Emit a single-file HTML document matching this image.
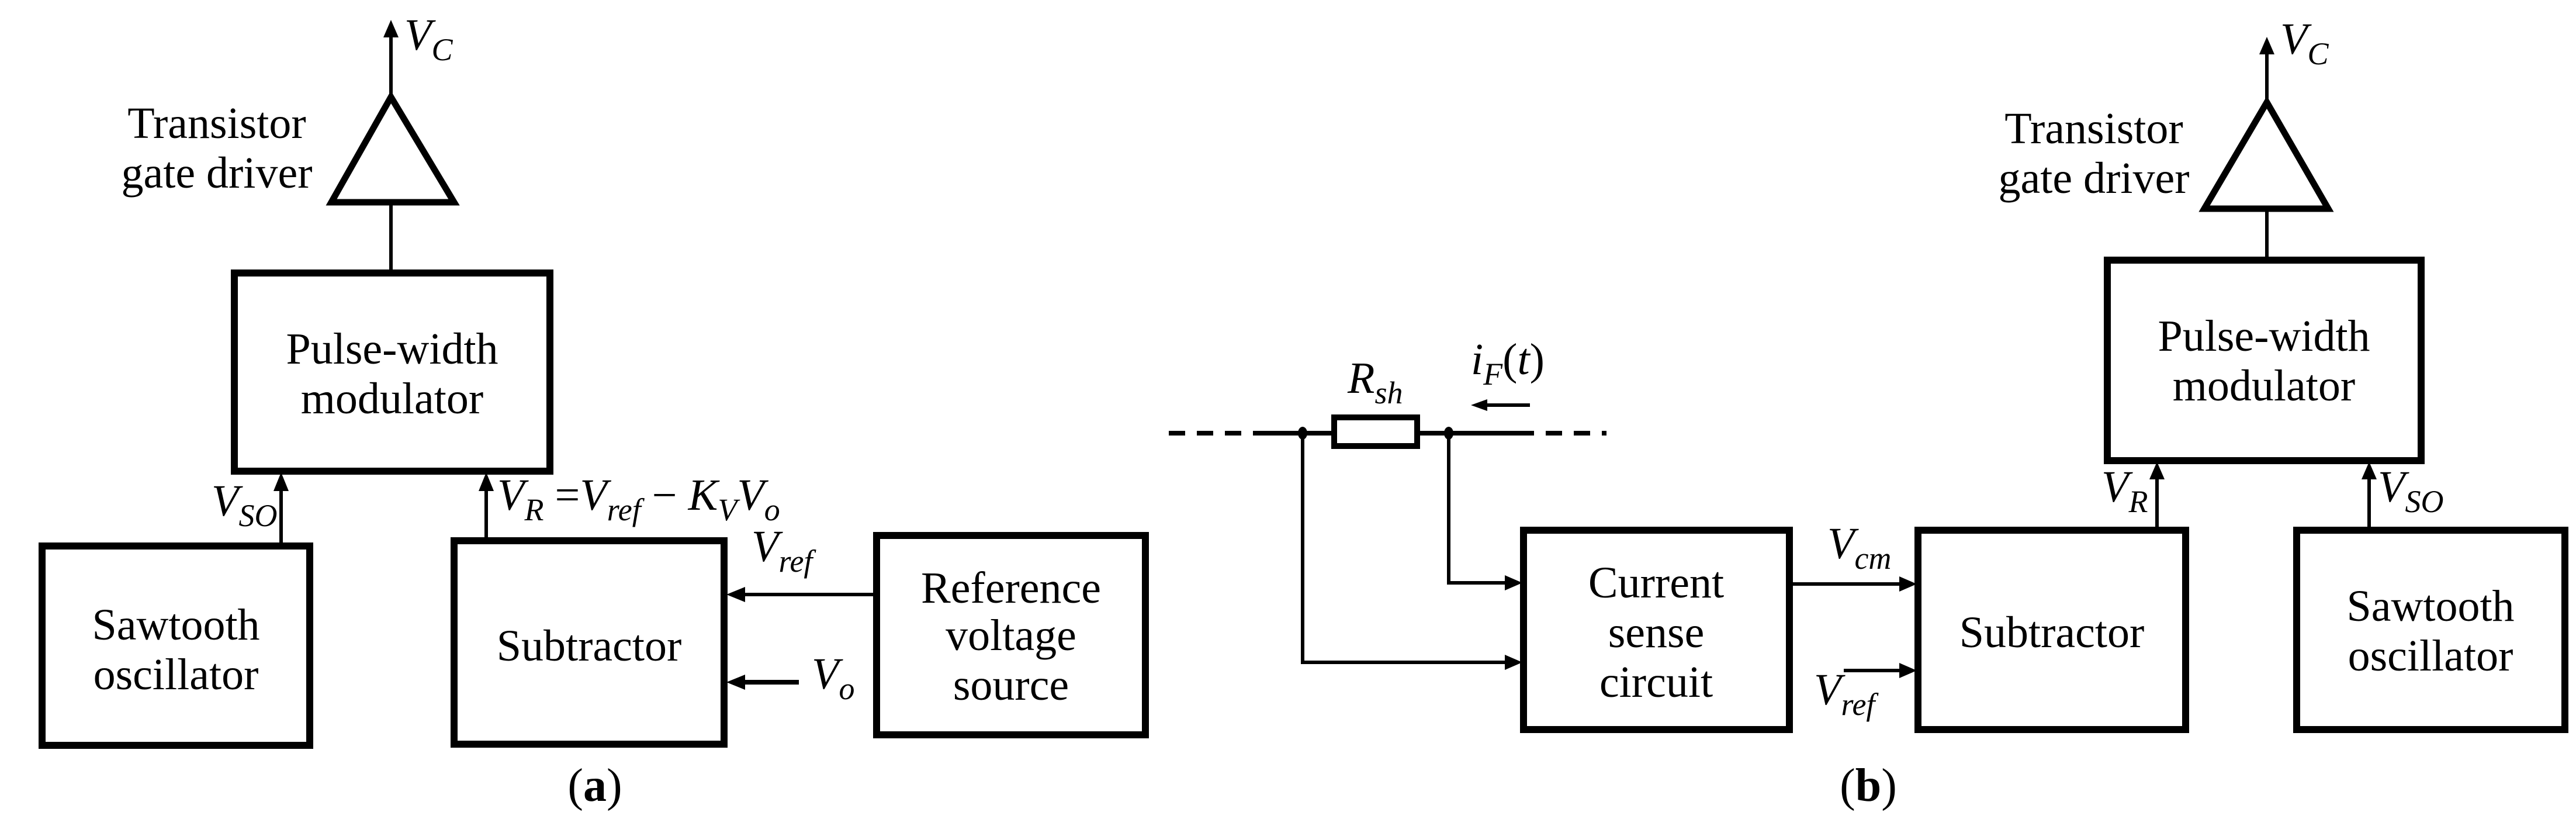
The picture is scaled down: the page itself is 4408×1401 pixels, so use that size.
<!DOCTYPE html>
<html><head><meta charset="utf-8"><style>
html,body{margin:0;padding:0;background:#fff;}
svg{display:block;}
text{font-family:"Liberation Serif",serif;fill:#000;}
.t{font-size:76px;text-anchor:middle;dominant-baseline:central;}
.i{font-size:76px;font-style:italic;}
.s{font-size:54px;font-style:italic;}
</style></head><body>
<svg width="4408" height="1401" viewBox="0 0 4408 1401" xmlns="http://www.w3.org/2000/svg">
<g fill="none" stroke="#000">
<!-- (a) -->
<rect x="401" y="467" width="540" height="339" stroke-width="12"/>
<rect x="72" y="934" width="458" height="341" stroke-width="12"/>
<rect x="777" y="925" width="462" height="348" stroke-width="12"/>
<rect x="1500" y="916" width="460" height="341" stroke-width="12"/>
<polygon points="669,166 567,346 777,346" stroke-width="11"/>
<line x1="669" y1="166" x2="669" y2="60" stroke-width="6"/>
<line x1="669" y1="346" x2="669" y2="467" stroke-width="6"/>
<line x1="481" y1="934" x2="481" y2="840" stroke-width="6"/>
<line x1="832" y1="925" x2="832" y2="840" stroke-width="6"/>
<line x1="1500" y1="1017" x2="1270" y2="1017" stroke-width="6"/>
<line x1="1367" y1="1167" x2="1270" y2="1167" stroke-width="8"/>
<!-- (b) -->
<rect x="3606" y="445" width="537" height="343" stroke-width="12"/>
<rect x="2607" y="907" width="455" height="341" stroke-width="12"/>
<rect x="3282" y="907" width="458" height="341" stroke-width="12"/>
<rect x="3930" y="907" width="459" height="341" stroke-width="12"/>
<polygon points="3879,175 3772,357 3984,357" stroke-width="11"/>
<line x1="3879" y1="175" x2="3879" y2="90" stroke-width="6"/>
<line x1="3879" y1="357" x2="3879" y2="445" stroke-width="6"/>
<line x1="3691" y1="907" x2="3691" y2="815" stroke-width="6"/>
<line x1="4054" y1="907" x2="4054" y2="815" stroke-width="6"/>
<line x1="3062" y1="999" x2="3255" y2="999" stroke-width="6"/>
<line x1="3155" y1="1147" x2="3255" y2="1147" stroke-width="6"/>
<line x1="2000" y1="741" x2="2154" y2="741" stroke-width="8" stroke-dasharray="28,20"/>
<line x1="2154" y1="741" x2="2283" y2="741" stroke-width="8"/>
<line x1="2425" y1="741" x2="2625" y2="741" stroke-width="8"/>
<line x1="2645" y1="741" x2="2749" y2="741" stroke-width="8" stroke-dasharray="28,20"/>
<rect x="2283" y="714" width="142" height="49" stroke-width="10"/>
<polyline points="2229,741 2229,1133 2580,1133" stroke-width="6"/>
<polyline points="2479,741 2479,997 2580,997" stroke-width="6"/>
<line x1="2618" y1="693" x2="2540" y2="693" stroke-width="6"/>
</g>
<g fill="#000">
<polygon points="669,34 656,64 682,64"/>
<polygon points="481,808 468,840 494,840"/>
<polygon points="832,808 819,840 845,840"/>
<polygon points="1243,1017 1275,1004 1275,1030"/>
<polygon points="1243,1167 1275,1154 1275,1180"/>
<polygon points="3879,63 3866,93 3892,93"/>
<polygon points="3691,790 3678,820 3704,820"/>
<polygon points="4054,790 4041,820 4067,820"/>
<polygon points="3280,999 3250,986 3250,1012"/>
<polygon points="3280,1147 3250,1134 3250,1160"/>
<polygon points="2605,1133 2575,1120 2575,1146"/>
<polygon points="2605,997 2575,984 2575,1010"/>
<polygon points="2517,693 2545,683 2545,703"/>
<ellipse cx="2229" cy="741" rx="8" ry="11"/>
<ellipse cx="2479" cy="741" rx="8" ry="11"/>
</g>
<!-- text (a) -->
<text class="t" x="371" y="211">Transistor</text>
<text class="t" x="371" y="296">gate driver</text>
<text class="t" x="671" y="597">Pulse-width</text>
<text class="t" x="671" y="682">modulator</text>
<text class="t" x="301" y="1069">Sawtooth</text>
<text class="t" x="301" y="1154">oscillator</text>
<text class="t" x="1008" y="1105">Subtractor</text>
<text class="t" x="1730" y="1006">Reference</text>
<text class="t" x="1730" y="1087">voltage</text>
<text class="t" x="1730" y="1172">source</text>
<text x="1018" y="1344" class="t" style="font-size:80px;">(<tspan font-weight="bold">a</tspan>)</text>
<text x="692" y="85" class="i">V<tspan class="s" dy="18">C</tspan></text>
<text x="362" y="882" class="i">V<tspan class="s" dy="18">SO</tspan></text>
<text x="851" y="872" class="i">V<tspan class="s" dy="18">R</tspan><tspan dy="-18" font-style="normal"> =</tspan>V<tspan class="s" dy="18">ref</tspan><tspan dy="-18" font-style="normal"> − </tspan>K<tspan class="s" dy="18">V</tspan><tspan dy="-18">V</tspan><tspan class="s" dy="18">o</tspan></text>
<text x="1286" y="960" class="i">V<tspan class="s" dy="18">ref</tspan></text>
<text x="1389" y="1178" class="i">V<tspan class="s" dy="18">o</tspan></text>
<!-- text (b) -->
<text class="t" x="3583" y="220">Transistor</text>
<text class="t" x="3583" y="305">gate driver</text>
<text class="t" x="3874" y="575">Pulse-width</text>
<text class="t" x="3874" y="660">modulator</text>
<text class="t" x="2834" y="997">Current</text>
<text class="t" x="2834" y="1082">sense</text>
<text class="t" x="2834" y="1167">circuit</text>
<text class="t" x="3511" y="1082">Subtractor</text>
<text class="t" x="4159" y="1037">Sawtooth</text>
<text class="t" x="4159" y="1122">oscillator</text>
<text x="3197" y="1344" class="t" style="font-size:80px;">(<tspan font-weight="bold">b</tspan>)</text>
<text x="3902" y="92" class="i">V<tspan class="s" dy="18">C</tspan></text>
<text x="3596" y="858" class="i">V<tspan class="s" dy="18">R</tspan></text>
<text x="4069" y="858" class="i">V<tspan class="s" dy="18">SO</tspan></text>
<text x="3127" y="955" class="i">V<tspan class="s" dy="18">cm</tspan></text>
<text x="3104" y="1205" class="i">V<tspan class="s" dy="18">ref</tspan></text>
<text x="2306" y="672" class="i">R<tspan class="s" dy="18">sh</tspan></text>
<text x="2517" y="640" class="i">i<tspan class="s" dy="18">F</tspan><tspan dy="-18" font-style="normal">(</tspan>t<tspan font-style="normal">)</tspan></text>
</svg>
</body></html>
